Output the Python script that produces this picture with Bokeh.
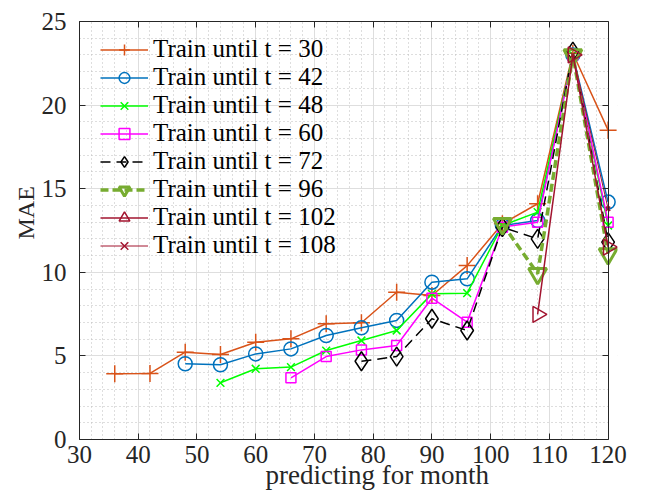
from bokeh.plotting import figure
from bokeh.models import (LinearAxis, SingleIntervalTicker, Legend, LegendItem, Range1d,
                          BoxAnnotation, Title)
from bokeh.embed import file_html
from bokeh.resources import INLINE

# ---------------- data ----------------
months = [36, 42, 48, 54, 60, 66, 72, 78, 84, 90, 96, 102, 108, 114, 120]

labels = ["Train until t = 30", "Train until t = 42", "Train until t = 48",
          "Train until t = 60", "Train until t = 72", "Train until t = 96",
          "Train until t = 102", "Train until t = 108"]

start_t30 = 36
mae_t30 = [3.93, 3.95, 5.22, 5.08, 5.82, 6.02, 6.92, 6.98, 8.81, 8.61, 10.4, 12.9, 14.1, 23.1, 18.5]
start_t42 = 48
mae_t42 = [4.53, 4.47, 5.12, 5.42, 6.22, 6.68, 7.12, 9.41, 9.61, 12.8, 13.1, 23.0, 14.2]
start_t48 = 54
mae_t48 = [3.39, 4.23, 4.33, 5.32, 5.92, 6.52, 8.71, 8.75, 12.8, 13.6, 23.0, 12.8]
start_t60 = 66
mae_t60 = [3.69, 4.96, 5.36, 5.62, 8.45, 7.02, 12.7, 13.0, 23.0, 13.0]
start_t72 = 78
mae_t72 = [4.68, 4.96, 7.22, 6.52, 12.7, 12.0, 23.2, 11.8]
start_t96 = 102
mae_t96 = [12.9, 9.92, 23.0, 11.1]
start_t102 = 108
mae_t102 = [7.48, 23.0, 11.5]
start_t108 = 114
mae_t108 = [23.0, 13.8]

all_series = [(start_t30, mae_t30), (start_t42, mae_t42), (start_t48, mae_t48),
              (start_t60, mae_t60), (start_t72, mae_t72), (start_t96, mae_t96),
              (start_t102, mae_t102), (start_t108, mae_t108)]

x_label = "predicting for month"
y_label = "MAE"
X_MIN, X_MAX = 30, 120
Y_MIN, Y_MAX = 0, 25

# ---------------- styles ----------------
FONT = "Liberation Serif"
AX = "#262626"
styles = [
    dict(color="#D95319", marker="cross", size=17, lw=1.5, dash="solid", angle=0.0),
    dict(color="#0072BD", marker="circle", size=14, lw=1.5, dash="solid", angle=0.0),
    dict(color="#00FF00", marker="x", size=11, lw=1.5, dash="solid", angle=0.0),
    dict(color="#FF00FF", marker="square", size=10, lw=1.5, dash="solid", angle=0.0),
    dict(color="#000000", marker="diamond", size=19, lw=1.5, dash="10 6", angle=0.0),
    dict(color="#77AC30", marker="inverted_triangle", size=18, lw=3.5, dash="8 4", angle=0.0),
    dict(color="#A2142F", marker="triangle", size=16, lw=1.5, dash="solid", angle=-1.5708),
    dict(color="#A2142F", marker="x", size=6, lw=1.0, dash="solid", angle=0.0),
]

PAD_X = 1.6  # extra room so markers at the last month are not clipped

p = figure(width=649, height=495, output_backend="svg", toolbar_location=None,
           x_range=Range1d(X_MIN, X_MAX + PAD_X), y_range=Range1d(Y_MIN, Y_MAX),
           min_border_left=79, min_border_right=32, min_border_top=21, min_border_bottom=56)
p.background_fill_color = "white"
p.border_fill_color = "white"
p.outline_line_color = None

xt = SingleIntervalTicker(interval=10, num_minor_ticks=5)
yt = SingleIntervalTicker(interval=5, num_minor_ticks=5)
p.xaxis.ticker = xt
p.yaxis.ticker = yt
p.xaxis.bounds = (X_MIN, X_MAX)

for ax in (p.xaxis[0], p.yaxis[0]):
    ax.axis_line_color = AX
    ax.major_tick_line_color = AX
    ax.major_tick_in = 6
    ax.major_tick_out = 0
    ax.minor_tick_line_color = None
    ax.major_label_text_font = FONT
    ax.major_label_text_font_size = "25px"
    ax.major_label_text_color = AX

p.xaxis.major_label_standoff = 2
p.yaxis.major_label_standoff = 9

right_ax = LinearAxis(ticker=yt, major_label_text_font_size="0px", major_tick_in=6,
                      major_tick_out=0, minor_tick_line_color=None, axis_line_color=AX,
                      major_tick_line_color=AX, major_label_standoff=0,
                      fixed_location=X_MAX)
p.add_layout(right_ax, "right")
top_ax = LinearAxis(ticker=xt, major_label_text_font_size="0px", major_tick_in=6,
                    major_tick_out=0, minor_tick_line_color=None, axis_line_color=AX,
                    major_tick_line_color=AX, major_label_standoff=0, bounds=(X_MIN, X_MAX))
p.add_layout(top_ax, "above")

# axis titles (placed as in the reference)
p.add_layout(Title(text=x_label, align="left", vertical_align="top", offset=186,
                   standoff=-12, text_font=FONT, text_font_size="27px",
                   text_font_style="normal", text_color=AX), "below")
p.add_layout(Title(text=y_label, align="left", vertical_align="bottom", offset=200,
                   standoff=0, text_font=FONT, text_font_size="24px",
                   text_font_style="normal", text_color=AX), "left")

for g in (p.xgrid[0], p.ygrid[0]):
    g.grid_line_color = "#DEDEDE"
    g.grid_line_width = 1
    g.minor_grid_line_color = "#BDBDBD"
    g.minor_grid_line_dash = "1 3"
    g.minor_grid_line_width = 1

# white cover for the strip right of the last month (below the data)
p.add_layout(BoxAnnotation(left=X_MAX, right=X_MAX + PAD_X, bottom=Y_MIN, top=Y_MAX,
                           fill_color="white", fill_alpha=1.0, line_color=None,
                           level="underlay"))

items = []
for (start, vals), st, lab in zip(all_series, styles, labels):
    i0 = months.index(start)
    xs = months[i0:i0 + len(vals)]
    r1 = p.line(xs, vals, line_color=st["color"], line_width=st["lw"], line_dash=st["dash"])
    r2 = p.scatter(xs, vals, marker=st["marker"], size=st["size"], angle=st["angle"],
                   line_color=st["color"], fill_color=None,
                   line_width=1.5 if st["marker"] != "inverted_triangle" else 3.0)
    items.append(LegendItem(label=lab, renderers=[r1, r2]))

legend = Legend(items=items, location=(21, 180), padding=0, margin=0, spacing=0,
                glyph_width=48, glyph_height=27, label_height=27, label_standoff=5,
                label_text_font=FONT, label_text_font_size="25px", label_text_color="#000000",
                background_fill_alpha=0, border_line_alpha=0)
p.add_layout(legend)

open("out.html", "w").write(file_html(p, INLINE))
